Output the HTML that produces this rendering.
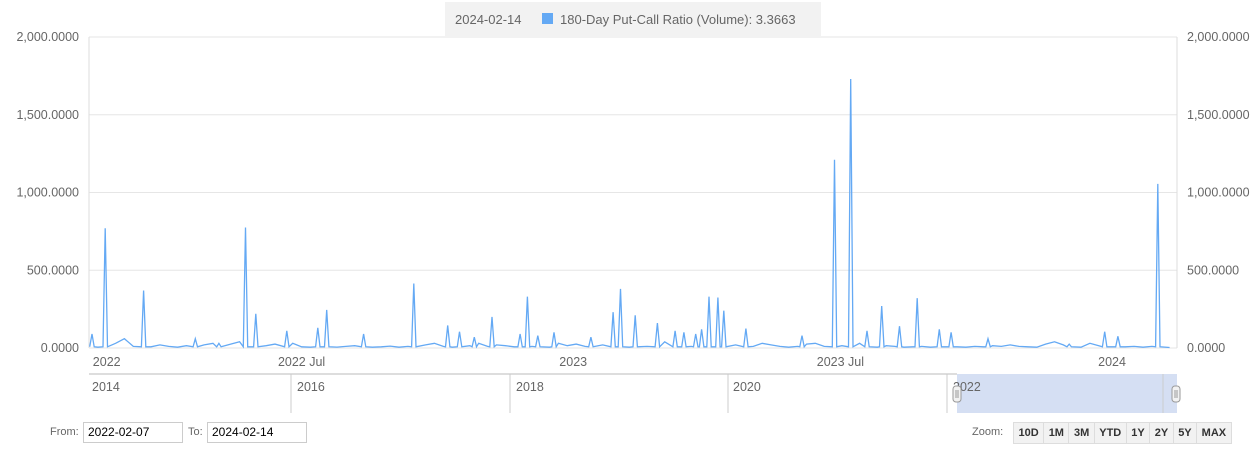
<!DOCTYPE html>
<html><head><meta charset="utf-8">
<style>
body{margin:0;width:1258px;height:457px;background:#fff;font-family:"Liberation Sans",sans-serif;overflow:hidden;position:relative}
svg{position:absolute;left:0;top:0}
.inp{position:absolute;top:422px;border:1px solid #ccc;font-size:12px;line-height:19px;padding-left:4px;color:#000;box-sizing:border-box;height:21px}
.lbl{position:absolute;top:426px;font-size:11px;color:#666}
.btns{position:absolute;left:1013px;top:422px;display:flex;border:1px solid #ddd;background:#f2f2f2}
.btns div{font-size:11px;font-weight:bold;color:#333;padding:0 4.5px;line-height:20px;border-right:1px solid #ddd}
.btns div:last-child{border-right:none}
</style></head><body>
<svg id="chart" width="1258" height="457"></svg>
<div class="lbl" style="left:50px">From:</div>
<div class="inp" style="left:83px;width:100px">2022-02-07</div>
<div class="lbl" style="left:188px">To:</div>
<div class="inp" style="left:207px;width:100px">2024-02-14</div>
<div class="lbl" style="left:972px">Zoom:</div>
<div class="btns">
<div>10D</div>
<div>1M</div>
<div>3M</div>
<div>YTD</div>
<div>1Y</div>
<div>2Y</div>
<div>5Y</div>
<div>MAX</div>
</div>
<script>
// day offsets from 2022-02-07 and values
const peakDays=[2,11,37,72,88,106,113,134,155,161,186,220,243,251,261,273,292,297,304,315,340,355,360,370,385,397,403,411,415,420,426,430,445,483,505,516,527,537,549,561,576,584,609,664,688,697,724];
const peakVals=[90,770,370,60,30,775,220,110,130,245,90,415,145,105,70,200,90,330,80,100,70,230,380,210,160,110,100,90,120,330,325,240,125,80,1210,1730,110,270,140,320,120,100,60,25,105,75,1055];
const baseVals=[10,5,40,30,60,10,15,8,20,10,5,15,8,20,30,10,25,40,20,5,15,25,10,30,8,5,20,10,6,10,15,10,5,8,12,5,10,8,20,30,10,5,25,15,30,10,20,15,8,40,10,20,5,30,15,25,10,8,20,40,10,5,30,10,20,40,60,20,10,5,15,10,8,20,5,10,30,20,10,5,10,25,30,10,20,15,8,30,10,5,15,10,5,8,10,5,6,10,8,5,10,8,15,10,20,10,8,5,25,40,20,10,5,30,15,10,5,8,10,5,10,4,3];
const yTicks=[0,500,1000,1500,2000];
const yTickLabels=["0.0000","500.0000","1,000.0000","1,500.0000","2,000.0000"];
const xLabelDays=[12,144,328,509,693];
const xLabels=["2022","2022 Jul","2023","2023 Jul","2024"];
const navLabels=["2014","2016","2018","2020","2022"];

const NS="http://www.w3.org/2000/svg",svg=document.getElementById('chart');
function mk(t,a,p){const e=document.createElementNS(NS,t);for(const k in a)e.setAttribute(k,a[k]);(p||svg).appendChild(e);return e;}
const X0=89,X1=1177,Y0=348,Y1=37,totalDays=737;
const xs=d=>X0+d*(X1-X0)/totalDays;
const ys=v=>Y0-v*(Y0-Y1)/2000;
yTicks.forEach((t,i)=>{
 const g=mk('line',{x1:X0,x2:X1,y1:ys(t),y2:ys(t),stroke:'#e6e6e6'});
 
 
 const l=mk('text',{x:79,y:ys(t)+4,'text-anchor':'end','font-size':12.5,fill:'#666'});l.textContent=yTickLabels[i];
 
 
 const r=mk('text',{x:1187,y:ys(t)+4,'font-size':12.5,fill:'#666'});r.textContent=yTickLabels[i];
 
 
});
mk('line',{x1:X0,x2:X0,y1:Y1,y2:Y0,stroke:'#ddd'});
mk('line',{x1:X1,x2:X1,y1:Y1,y2:Y0,stroke:'#ddd'});
xLabels.forEach((s,i)=>{
 const t=mk('text',{x:xs(xLabelDays[i]),y:366,'text-anchor':'middle','font-size':12.5,fill:'#666'});t.textContent=s;
 
 
});
let pts=[];baseVals.forEach((v,i)=>pts.push([i*6,v]));
pts=pts.filter(p=>!peakDays.some(d=>Math.abs(d-p[0])<3));
peakDays.forEach((d,i)=>{pts.push([d,peakVals[i]]);pts.push([d-1.5,8]);pts.push([d+1.5,8]);});
pts.sort((a,b)=>a[0]-b[0]);pts=pts.filter(p=>p[0]>=0&&p[0]<=totalDays);
const line=mk('path',{d:pts.map((p,i)=>(i?'L':'M')+xs(p[0]).toFixed(1)+','+ys(p[1]).toFixed(1)).join(''),fill:'none',stroke:'#64a9f4','stroke-width':1.3});


const lg=mk('rect',{x:445,y:2,width:376,height:34,fill:'#f2f2f2'});


const ld=mk('text',{x:455,y:24,'font-size':13,fill:'#666'});ld.textContent='2024-02-14';
mk('rect',{x:542,y:13,width:11,height:11,fill:'#64a9f4'});
const lt=mk('text',{x:560,y:24,'font-size':13,fill:'#666'});lt.textContent='180-Day Put-Call Ratio (Volume): 3.3663';


const nav=mk('rect',{x:957,y:374,width:220,height:39,fill:'#d5dff3'});


mk('line',{x1:X0,x2:957,y1:374,y2:374,stroke:'#ddd','stroke-width':2});
[291,510,728,947,1163].forEach(x=>mk('line',{x1:x,x2:x,y1:374,y2:413,stroke:'#ccc'}));
[92,297,516,733,953].forEach((x,i)=>{const t=mk('text',{x:x,y:391,'font-size':12.5,fill:'#666'});t.textContent=navLabels[i];
 
 });
[957,1176].forEach(x=>{const h=mk('rect',{x:x-4,y:386,width:8,height:16,rx:3,fill:'#f2f2f2',stroke:'#999'});
 
 
 mk('line',{x1:x-1,x2:x-1,y1:390,y2:398,stroke:'#999'});mk('line',{x1:x+1,x2:x+1,y1:390,y2:398,stroke:'#999'});});
</script>
</body></html>
